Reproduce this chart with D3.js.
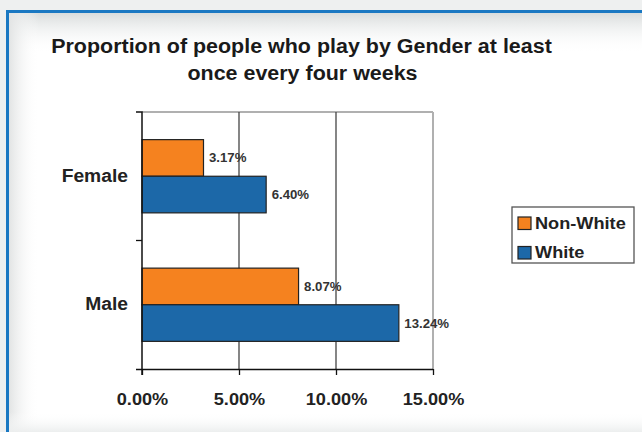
<!DOCTYPE html>
<html><head><meta charset="utf-8">
<script src="https://cdn.jsdelivr.net/npm/d3@7"></script>
<style>body{margin:0;background:#eef0f0;}svg{display:block;}</style>
</head><body>
<svg id="chart" width="642" height="432"></svg>
<script>
const categories = ["Female", "Male"];
const seriesNames = ["Non-White", "White"];
const nonWhite = [3.17, 8.07];
const white = [6.40, 13.24];
const xTicks = [0, 5, 10, 15];
const colors = ["#f5821f", "#1c68a8"];

const FONT = "Liberation Sans, Arial, sans-serif";
const STRETCH = 1.1;
function stretch(sel){ sel.each(function(){ const w=this.getComputedTextLength(); d3.select(this).attr("textLength",w*STRETCH).attr("lengthAdjust","spacingAndGlyphs"); }); }

const svg = d3.select("#chart");
const defs = svg.append("defs");
const gTop = defs.append("linearGradient").attr("id","gt").attr("x1",0).attr("y1",0).attr("x2",0).attr("y2",1);
gTop.append("stop").attr("offset",0).attr("stop-color","#d8dcdc");
gTop.append("stop").attr("offset",1).attr("stop-color","#ffffff").attr("stop-opacity",0);
const gLeft = defs.append("linearGradient").attr("id","gl").attr("x1",0).attr("y1",0).attr("x2",1).attr("y2",0);
gLeft.append("stop").attr("offset",0).attr("stop-color","#e2e4e4");
gLeft.append("stop").attr("offset",1).attr("stop-color","#ffffff").attr("stop-opacity",0);
const gBot = defs.append("linearGradient").attr("id","gb").attr("x1",0).attr("y1",1).attr("x2",0).attr("y2",0);
gBot.append("stop").attr("offset",0).attr("stop-color","#eceeee");
gBot.append("stop").attr("offset",1).attr("stop-color","#ffffff").attr("stop-opacity",0);

// frame
svg.append("rect").attr("x",0).attr("y",0).attr("width",642).attr("height",432).attr("fill","#eef0f0");
svg.append("rect").attr("x",9).attr("y",13).attr("width",640).attr("height",430).attr("fill","#ffffff");
svg.append("rect").attr("x",9).attr("y",13).attr("width",640).attr("height",40).attr("fill","url(#gt)");
svg.append("rect").attr("x",9).attr("y",13).attr("width",30).attr("height",430).attr("fill","url(#gl)");
svg.append("rect").attr("x",9).attr("y",412).attr("width",640).attr("height",20).attr("fill","url(#gb)");
svg.append("path").attr("d","M7.5,440 V11.5 H650").attr("fill","none").attr("stroke","#1a78c2").attr("stroke-width",3);

// title
const title = svg.append("text").attr("text-anchor","middle")
  .attr("font-family",FONT).attr("font-weight","bold")
  .attr("font-size",19.5).attr("fill","#1a1a1a");
title.append("tspan").attr("x",301.5).attr("y",52.5).text("Proportion of people who play by Gender at least").call(stretch);
title.append("tspan").attr("x",302.5).attr("y",79.5).text("once every four weeks").call(stretch);

const pLeft = 142, pRight = 433, pTop = 112, pBottom = 369;
const x = d3.scaleLinear().domain([0,15]).range([pLeft,pRight]);
const y0 = d3.scaleBand().domain(categories).range([pTop,pBottom]).paddingInner(0.43).paddingOuter(0.215);
const y1 = d3.scaleBand().domain(seriesNames).range([0,y0.bandwidth()]);

// plot borders and gridlines
svg.append("line").attr("x1",pLeft).attr("x2",pRight).attr("y1",pTop).attr("y2",pTop).attr("stroke","#b0b0b0").attr("stroke-width",2);
svg.append("g").selectAll("line").data(xTicks.slice(1)).join("line")
  .attr("x1",d=>x(d)).attr("x2",d=>x(d)).attr("y1",pTop).attr("y2",pBottom)
  .attr("stroke",d=>d===15?"#b0b0b0":"#444").attr("stroke-width",d=>d===15?2:1.3);

// bars
const data = categories.map((c,i)=>({cat:c, vals:[{s:seriesNames[0],v:nonWhite[i]},{s:seriesNames[1],v:white[i]}]}));
const groups = svg.append("g").selectAll("g").data(data).join("g")
  .attr("transform",d=>`translate(0,${y0(d.cat)})`);
groups.selectAll("rect").data(d=>d.vals).join("rect")
  .attr("x",x(0)).attr("y",d=>y1(d.s)).attr("width",d=>x(d.v)-x(0)).attr("height",y1.bandwidth())
  .attr("fill",(d,i)=>colors[i]).attr("stroke","#222").attr("stroke-width",1.2);
groups.selectAll("text").data(d=>d.vals).join("text")
  .attr("x",d=>x(d.v)+5.5).attr("y",d=>y1(d.s)+y1.bandwidth()/2+4.5)
  .attr("font-family",FONT).attr("font-weight","bold")
  .attr("font-size",12).attr("fill","#333").text(d=>d.v.toFixed(2)+"%").call(stretch);

// axes
const xAxis = d3.axisBottom(x).tickValues(xTicks).tickFormat(d=>d.toFixed(2)+"%").tickSize(6).tickSizeOuter(0);
const gx = svg.append("g").attr("transform",`translate(0,${pBottom})`).call(xAxis);
gx.select(".domain").attr("stroke","#111").attr("stroke-width",1.5).attr("d",`M${pLeft-6},0.5H${pRight}`);
gx.selectAll(".tick line").attr("stroke","#111").attr("stroke-width",1.3);
gx.selectAll(".tick text").attr("font-family",FONT).attr("font-weight","bold")
  .attr("font-size",16.5).attr("fill","#222").attr("dy",0).attr("y",36).call(stretch);

const yAxis = d3.axisLeft(y0).tickSize(0).tickPadding(14);
const gy = svg.append("g").attr("transform",`translate(${pLeft},0)`).call(yAxis);
gy.select(".domain").attr("stroke","#111").attr("stroke-width",1.5).attr("d",`M-6,${pTop}H0V${pBottom+6}`);
gy.selectAll(".tick text").attr("font-family",FONT).attr("font-weight","bold")
  .attr("font-size",17.5).attr("fill","#222").call(stretch);
const sep = [(y0("Female")+y0.bandwidth()+y0("Male"))/2];
gy.selectAll(".sep").data(sep).join("line").attr("class","sep")
  .attr("x1",-6).attr("x2",0).attr("y1",d=>d).attr("y2",d=>d).attr("stroke","#111").attr("stroke-width",1.3);

// legend
const lg = svg.append("g").attr("transform","translate(512,207)");
lg.append("rect").attr("width",122).attr("height",56).attr("fill","#fff").attr("stroke","#555").attr("stroke-width",1.3);
const li = lg.selectAll("g").data(seriesNames).join("g").attr("transform",(d,i)=>`translate(6,${10+i*29.5})`);
li.append("rect").attr("width",13).attr("height",12.5).attr("fill",(d,i)=>colors[i]).attr("stroke","#222").attr("stroke-width",1.2);
li.append("text").attr("x",17).attr("y",11.5).attr("font-family",FONT)
  .attr("font-weight","bold").attr("font-size",16.5).attr("fill","#222").text(d=>d).call(stretch);
</script>
</body></html>
